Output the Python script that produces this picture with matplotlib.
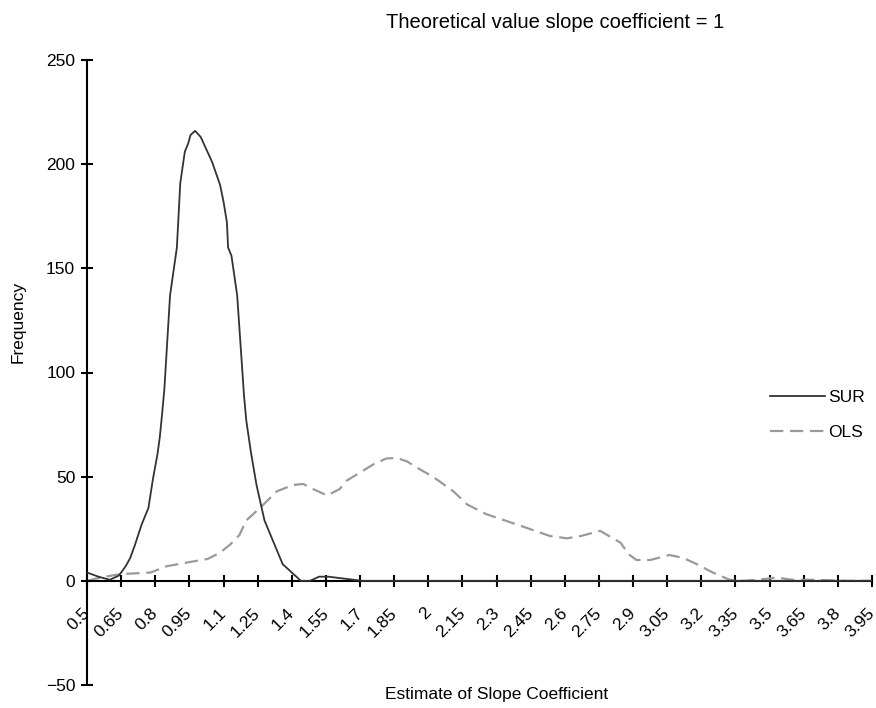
import matplotlib.pyplot as plt
import matplotlib.transforms as mtransforms
import numpy as np

plt.rcParams['font.family'] = ['Liberation Sans', 'DejaVu Sans']

# SUR frequency curve
sur_x = [0.50, 0.55, 0.60, 0.64, 0.67, 0.69, 0.71, 0.74, 0.77, 0.79, 0.81, 0.82,
         0.83, 0.84, 0.865, 0.895, 0.91, 0.93, 0.945, 0.955, 0.975, 1.00, 1.05,
         1.085, 1.10, 1.115, 1.12, 1.135, 1.16, 1.19, 1.20, 1.22, 1.245, 1.28,
         1.36, 1.44, 1.48, 1.52, 1.56, 1.71, 3.95]
sur_y = [4, 2, 0.5, 2.5, 7, 11, 17, 27, 35, 49, 61, 69,
         80, 92, 137, 160, 191, 206, 210, 214, 216, 213, 201,
         190, 182, 172, 160, 156, 137, 89, 77, 62, 46, 29,
         8, 0, 0, 2, 2, 0, 0]

# OLS frequency curve
ols_x = [0.50, 0.56, 0.645, 0.78, 0.85, 0.95, 1.03, 1.085, 1.13, 1.17, 1.20,
         1.26, 1.335, 1.405, 1.45, 1.495, 1.555, 1.61, 1.64, 1.70, 1.76, 1.815,
         1.86, 1.905, 1.965, 2.02, 2.11, 2.17, 2.255, 2.39, 2.535, 2.61, 2.67,
         2.755, 2.845, 2.88, 2.915, 2.975, 3.06, 3.12, 3.18, 3.25, 3.325, 3.385,
         3.45, 3.53, 3.60, 3.69, 3.84, 3.95]
ols_y = [0, 1.6, 3.2, 4, 7, 9, 10.5, 13.5, 17.5, 22, 29,
         35, 43, 46, 46.5, 44, 41, 44, 48, 52, 56, 58.7,
         59, 57.4, 53.4, 50, 43, 36.7, 32, 27, 21.5, 20.4, 21.5,
         24, 18.3, 12.8, 10, 10, 12.4, 11, 8, 4, 0.5, 0,
         0.5, 1.6, 0.5, 0.5, 0, 0]

xticks = [0.5, 0.65, 0.8, 0.95, 1.1, 1.25, 1.4, 1.55, 1.7, 1.85, 2, 2.15, 2.3,
          2.45, 2.6, 2.75, 2.9, 3.05, 3.2, 3.35, 3.5, 3.65, 3.8, 3.95]
xtick_labels = ['0.5', '0.65', '0.8', '0.95', '1.1', '1.25', '1.4', '1.55', '1.7',
                '1.85', '2', '2.15', '2.3', '2.45', '2.6', '2.75', '2.9', '3.05',
                '3.2', '3.35', '3.5', '3.65', '3.8', '3.95']
yticks = [-50, 0, 50, 100, 150, 200, 250]

W, H = 876, 708
fig = plt.figure(figsize=(W/100, H/100), dpi=100)
ax = fig.add_axes([87/W, 1-685/H, (872-87)/W, (685-60)/H])

ax.plot(sur_x, sur_y, color='#333333', lw=1.3, label='SUR', zorder=3)
ax.plot(ols_x, ols_y, color='#9a9a9a', lw=1.6, dashes=(6, 3), label='OLS', zorder=2)

ax.set_xlim(0.5, 3.95)
ax.set_ylim(-50, 250)
ax.spines['top'].set_visible(False)
ax.spines['right'].set_visible(False)
ax.spines['bottom'].set_position(('data', 0))
ax.spines['left'].set_linewidth(1.5)
ax.spines['bottom'].set_linewidth(1.5)

ax.set_yticks(yticks)
ax.set_xticks(xticks)
ax.set_xticklabels(xtick_labels, rotation=45, ha='right', va='top', rotation_mode='anchor')
ax.tick_params(axis='both', direction='inout', length=9, width=1.5, labelsize=12.5)
ax.tick_params(axis='x', pad=13)
ax.tick_params(axis='y', pad=4)
shift = mtransforms.ScaledTranslation(-5/100, 0, fig.dpi_scale_trans)
for lbl in ax.get_xticklabels():
    lbl.set_transform(lbl.get_transform() + shift)

fig.text(555/W, 1-22/H, 'Theoretical value slope coefficient = 1', ha='center', va='center', fontsize=14.5)
fig.text(497/W, 1-695/H, 'Estimate of Slope Coefficient', ha='center', va='center', fontsize=12.5)
fig.text(18/W, 1-322/H, 'Frequency', ha='center', va='center', rotation=90, fontsize=12.5)

ax.legend(loc='center left', bbox_to_anchor=(754/W, 1-415/H), bbox_transform=fig.transFigure,
          frameon=False, fontsize=12.5, handlelength=3.2, handletextpad=0.15, labelspacing=1.1)

fig.savefig('out.png', dpi=100)
